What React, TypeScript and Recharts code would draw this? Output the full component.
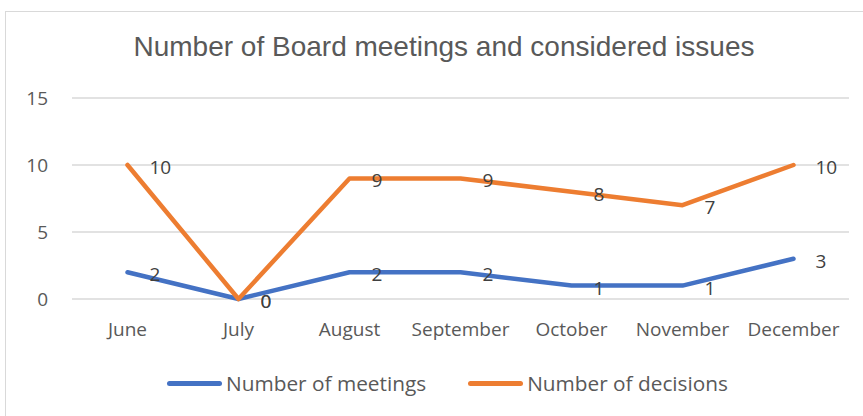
import React from 'react';
import { LineChart, Line, XAxis, YAxis, CartesianGrid, Legend, LabelList } from 'recharts';

const months = ['June', 'July', 'August', 'September', 'October', 'November', 'December'];
const meetings = [2, 0, 2, 2, 1, 1, 3];
const decisions = [10, 0, 9, 9, 8, 7, 10];
const yTicks = [0, 5, 10, 15];

const data = months.map((m, i) => ({ month: m, meetings: meetings[i], decisions: decisions[i] }));

const FONT = '"Open Sans", sans-serif';
const BLUE = '#4472C4';
const ORANGE = '#ED7D31';

const PointLabel = (props: any) => {
  const { x, y, value } = props;
  return (
    <text x={x + 22} y={y + 2} textAnchor="start" dominantBaseline="central"
      fontFamily={FONT} fontSize={19} fill="#404040">
      {value}
    </text>
  );
};

const LegendContent = () => (
  <div style={{ display: 'flex', alignItems: 'center', justifyContent: 'center', height: 30, paddingLeft: 46,
    fontFamily: FONT, fontSize: 20.8, color: '#595959' }}>
    {[{ c: BLUE, t: 'Number of meetings' }, { c: ORANGE, t: 'Number of decisions' }].map((it, i) => (
      <div key={it.t} style={{ display: 'flex', alignItems: 'center', marginLeft: i ? 42 : 0 }}>
        <div style={{ width: 55, height: 5, borderRadius: 3, background: it.c, marginRight: 4 }} />
        <span>{it.t}</span>
      </div>
    ))}
  </div>
);

const App = () => {
  return (
    <div style={{ position: 'absolute', left: 0, top: 0, width: 863, height: 416, overflow: 'hidden', background: '#fff' }}>
      <div style={{ position: 'absolute', left: 5, top: 11, width: 900, height: 450, border: '1.5px solid #d9d9d9', boxSizing: 'border-box' }} />
      <div style={{ position: 'absolute', left: 0, top: 31, width: 888, textAlign: 'center',
        fontFamily: '"Liberation Sans", Arial, sans-serif', fontSize: 28, color: '#595959', lineHeight: '32px' }}>
        Number of Board meetings and considered issues
      </div>
      <div style={{ position: 'absolute', left: 0, top: 0 }}>
        <LineChart width={863} height={416} data={data} margin={{ top: 98, right: 14, bottom: 18, left: 0 }}>
          <CartesianGrid vertical={false} stroke="#d9d9d9" strokeWidth={1.5} />
          <XAxis dataKey="month" axisLine={false} tickLine={false} tickSize={0} tickMargin={24} height={69}
            padding={{ left: 55.5, right: 55.5 }} interval={0}
            tick={{ fontFamily: FONT, fontSize: 19, fill: '#595959' }} />
          <YAxis domain={[0, 15]} ticks={yTicks} axisLine={false} tickLine={false} tickSize={0} tickMargin={24} width={72}
            tick={{ fontFamily: FONT, fontSize: 19, fill: '#595959' }} />
          <Legend verticalAlign="bottom" height={30} content={<LegendContent />} />
          <Line dataKey="meetings" name="Number of meetings" stroke={BLUE} strokeWidth={4.5} dot={false}
            strokeLinejoin="round" strokeLinecap="round" isAnimationActive={false}>
            <LabelList dataKey="meetings" content={<PointLabel />} />
          </Line>
          <Line dataKey="decisions" name="Number of decisions" stroke={ORANGE} strokeWidth={4.5} dot={false}
            strokeLinejoin="round" strokeLinecap="round" isAnimationActive={false}>
            <LabelList dataKey="decisions" content={<PointLabel />} />
          </Line>
        </LineChart>
      </div>
    </div>
  );
};

export default App;
